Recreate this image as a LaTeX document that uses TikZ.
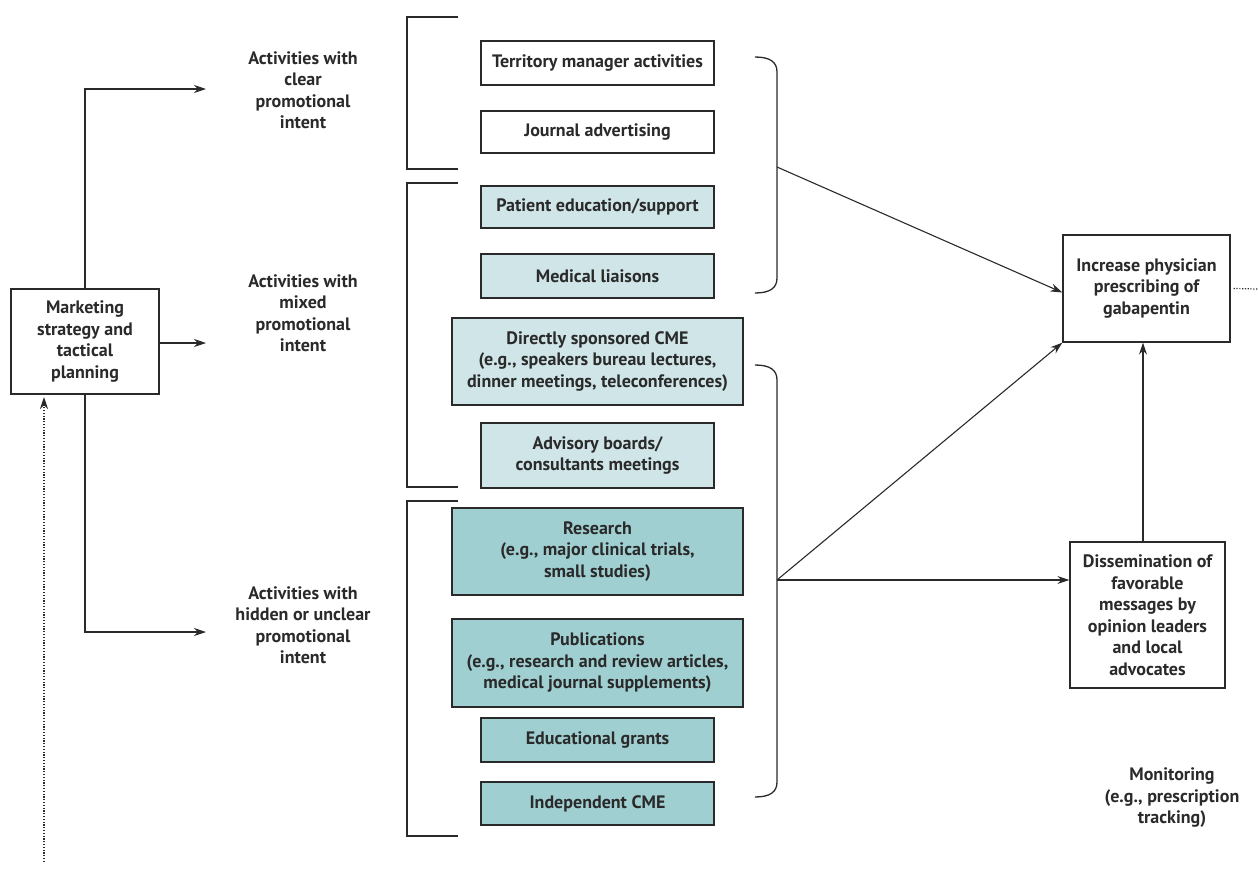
\documentclass[tikz,border=0pt]{standalone}
\usepackage{fontspec}
\setmainfont{PT Sans}
\usetikzlibrary{arrows.meta,calc}
\definecolor{lightb}{HTML}{CFE5E8}
\definecolor{darkb}{HTML}{A0CFD2}
\definecolor{ink}{HTML}{2A2A2A}
\begin{document}
\begin{tikzpicture}[x=1pt,y=-1pt,
  every node/.style={font=\fontsize{18}{21.5}\selectfont\bfseries, text=ink, align=center},
  box/.style={draw=ink, line width=1.3pt, inner sep=0pt},
  wbox/.style={box, fill=white},
  lbox/.style={box, fill=lightb},
  dbox/.style={box, fill=darkb},
  lbl/.style={inner sep=0pt},
  conn/.style={draw=ink, line width=1.1pt},
  arr/.style={conn, -{Stealth[length=12pt,width=8pt]}},
  brk/.style={draw=ink, line width=1.3pt},
  dotline/.style={conn, line width=1.2pt, dash pattern=on 1.2pt off 1.6pt},
]
\useasboundingbox (0,0) rectangle (1258,878);
% left column
\node[wbox, minimum width=148pt, minimum height=105pt] (mk) at (85,341.5) {Marketing\\strategy and\\tactical\\planning};
\node[lbl] (clear) at (303,90) {Activities with\\clear\\promotional\\intent};
\node[lbl] (mixed) at (303,313) {Activities with\\mixed\\promotional\\intent};
\node[lbl] (hidden) at (303,625) {Activities with\\hidden or unclear\\promotional\\intent};
\coordinate (ca) at (206,89);
\coordinate (ma) at (206,343);
\coordinate (ha) at (206,632);
\coordinate (dotstart) at (44,862);
\coordinate (dotend) at (44,397);
\draw[arr] (mk.north) |- (ca);
\draw[arr] (mk.east |- ma) -- (ma);
\draw[arr] (mk.south) |- (ha);
\draw[dotline, -{Stealth[length=12pt,width=8pt]}] (dotstart) -- (dotend);
% left brackets
\draw[brk] (458,17) -- (407,17) -- (407,169) -- (458,169);
\draw[brk] (458,183) -- (407,183) -- (407,487) -- (458,487);
\draw[brk] (458,501) -- (407,501) -- (407,836) -- (458,836);
% activity boxes
\node[wbox, minimum width=233pt, minimum height=44pt] (terr) at (597.5,63) {Territory manager activities};
\node[wbox, minimum width=233pt, minimum height=42pt] (jour) at (597.5,132) {Journal advertising};
\node[lbox, minimum width=233pt, minimum height=42pt] (pat) at (597.5,207) {Patient education/support};
\node[lbox, minimum width=233pt, minimum height=44pt] (med) at (597.5,276) {Medical liaisons};
\node[lbox, minimum width=291pt, minimum height=87pt] (dir) at (597.5,361.5) {Directly sponsored CME\\(e.g., speakers bureau lectures,\\dinner meetings, teleconferences)};
\node[lbox, minimum width=233pt, minimum height=65pt] (adv) at (597.5,455.5) {Advisory boards/\\consultants meetings};
\node[dbox, minimum width=291pt, minimum height=87pt] (res) at (597.5,551.5) {Research\\(e.g., major clinical trials,\\small studies)};
\node[dbox, minimum width=291pt, minimum height=88pt] (pub) at (597.5,663) {Publications\\(e.g., research and review articles,\\medical journal supplements)};
\node[dbox, minimum width=233pt, minimum height=44pt] (edu) at (597.5,740) {Educational grants};
\node[dbox, minimum width=233pt, minimum height=43pt] (ind) at (597.5,803.5) {Independent CME};
% right braces
\coordinate (b1) at (777,167);
\coordinate (b2) at (777,580);
\draw[brk] (755,57) .. controls (770,57) and (777,62) .. (777,72) -- (777,278) .. controls (777,288) and (770,293) .. (755,293);
\draw[brk] (755,365) .. controls (770,365) and (777,370) .. (777,380) -- (777,782) .. controls (777,792) and (770,797) .. (755,797);
% outcome boxes
\node[wbox, minimum width=167pt, minimum height=107pt] (inc) at (1146.5,288.5) {Increase physician\\prescribing of\\gabapentin};
\node[wbox, minimum width=155pt, minimum height=146pt] (dis) at (1147.5,615) {Dissemination of\\favorable\\messages by\\opinion leaders\\and local\\advocates};
\node[lbl] (mon) at (1172,798) {Monitoring\\(e.g., prescription\\tracking)};
\coordinate (dotr) at (1258,289);
\draw[arr] (b1) -- ($(inc.west)+(0,4)$);
\draw[arr] (b2) -- (inc.south west);
\draw[arr] (b2) -- (b2 -| dis.west);
\draw[arr] (dis.north -| 1143,0) -- (inc.south -| 1143,0);
\draw[dotline] ($(inc.east)+(3,0)$) -- (dotr);
\end{tikzpicture}
\end{document}
